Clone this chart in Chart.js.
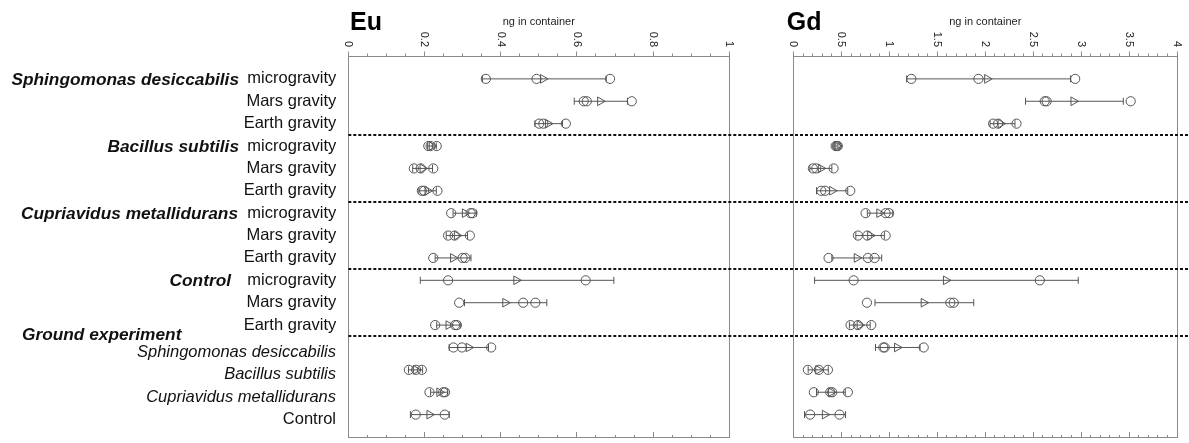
<!DOCTYPE html>
<html>
<head>
<meta charset="utf-8">
<title>Eu and Gd in container</title>
<script src="https://cdn.jsdelivr.net/npm/chart.js@4.4.1/dist/chart.umd.min.js"></script>
<style>
  html, body { margin: 0; padding: 0; background: #fff; }
  #wrap { position: relative; width: 1189px; height: 443px; overflow: hidden; }
  #eu { position: absolute; left: 0; top: 0; width: 760px; height: 443px; }
  #gd { position: absolute; left: 760px; top: 0; width: 429px; height: 443px; }
</style>
</head>
<body>
<div id="wrap">
  <canvas id="eu" width="760" height="443"></canvas>
  <canvas id="gd" width="429" height="443"></canvas>
</div>
<script>
// ---- rows and groups ----
const groupNames = ['Sphingomonas desiccabilis', 'Bacillus subtilis', 'Cupriavidus metallidurans', 'Control', 'Ground experiment'];
const groupSizes = [3, 3, 3, 3, 4];
const rowLabels = [
  'microgravity', 'Mars gravity', 'Earth gravity',
  'microgravity', 'Mars gravity', 'Earth gravity',
  'microgravity', 'Mars gravity', 'Earth gravity',
  'microgravity', 'Mars gravity', 'Earth gravity',
  'Sphingomonas desiccabilis', 'Bacillus subtilis', 'Cupriavidus metallidurans', 'Control'
];
const italicRows = [12, 13, 14];
const groundRows = [12, 13, 14, 15];

// ---- Eu (ng in container) ----
const euReplicates = [
  [0.361, 0.494, 0.687],
  [0.618, 0.626, 0.744],
  [0.501, 0.512, 0.571],
  [0.210, 0.216, 0.232],
  [0.172, 0.190, 0.223],
  [0.193, 0.199, 0.234],
  [0.270, 0.321, 0.326],
  [0.262, 0.279, 0.319],
  [0.223, 0.300, 0.307],
  [0.262, 0.623],
  [0.291, 0.459, 0.491],
  [0.228, 0.280, 0.285],
  [0.276, 0.298, 0.375],
  [0.159, 0.178, 0.193],
  [0.213, 0.249, 0.254],
  [0.177, 0.253]
];
const euMean = [0.511, 0.661, 0.524, 0.219, 0.195, 0.208, 0.306, 0.285, 0.275, 0.441, 0.412, 0.263, 0.316, 0.177, 0.239, 0.213];
const euLow  = [0.352, 0.593, 0.490, 0.208, 0.169, 0.185, 0.275, 0.257, 0.228, 0.189, 0.305, 0.232, 0.265, 0.158, 0.216, 0.163];
const euHigh = [0.677, 0.733, 0.562, 0.231, 0.221, 0.231, 0.336, 0.313, 0.322, 0.697, 0.521, 0.294, 0.368, 0.195, 0.261, 0.265];
const euTickLabels = ['0', '0.2', '0.4', '0.6', '0.8', '1'];

// ---- Gd (ng in container) ----
const gdReplicates = [
  [1.229, 1.929, 2.938],
  [2.620, 2.640, 3.517],
  [2.082, 2.134, 2.326],
  [0.440, 0.452, 0.462],
  [0.202, 0.237, 0.418],
  [0.290, 0.330, 0.592],
  [0.752, 0.961, 0.996],
  [0.672, 0.770, 0.961],
  [0.366, 0.776, 0.846],
  [0.627, 2.569],
  [0.766, 1.636, 1.671],
  [0.595, 0.672, 0.811],
  [0.937, 0.951, 1.358],
  [0.150, 0.265, 0.359],
  [0.212, 0.383, 0.404, 0.567],
  [0.174, 0.480]
];
const gdMean = [2.020, 2.920, 2.160, 0.452, 0.285, 0.403, 0.895, 0.800, 0.660, 1.590, 1.358, 0.690, 1.080, 0.258, 0.390, 0.327];
const gdLow  = [1.180, 2.420, 2.050, 0.441, 0.170, 0.240, 0.770, 0.650, 0.400, 0.220, 0.850, 0.583, 0.855, 0.153, 0.240, 0.115];
const gdHigh = [2.890, 3.440, 2.310, 0.463, 0.400, 0.566, 1.035, 0.948, 0.920, 2.970, 1.880, 0.800, 1.320, 0.363, 0.540, 0.543];
const gdTickLabels = ['0', '0.5', '1', '1.5', '2', '2.5', '3', '3.5', '4'];

// ---- styling ----
const FONT = "'Liberation Sans', Arial, sans-serif";
const AXIS_GREY = '#8a8a8a';
const MARK = '#555';
const TOP_AXIS_H = 56.5;
const BOTTOM_AXIS_H = 5.5;
const ROW_LABEL_SIZE = 16.5;
const ROW_LABEL_RIGHT = 336;
const GROUND_LABEL_SHIFT = 5;

// where the bold group names sit (row value, x anchor, alignment)
const groupLabelPlacement = [
  { row: 0, x: 239, align: 'right' },
  { row: 3, x: 239, align: 'right' },
  { row: 6, x: 238, align: 'right' },
  { row: 9, x: 231, align: 'right' },
  { row: 11.4, x: 22, align: 'left' }
];

// titles, rotated tick labels, dashed group separators and group names
const panelDecor = {
  id: 'panelDecor',
  afterDraw(chart, args, o) {
    const { ctx, chartArea: a } = chart;
    const xs = chart.scales.x, ys = chart.scales.y;
    ctx.save();

    ctx.strokeStyle = '#111';
    ctx.lineWidth = 2;
    ctx.setLineDash([3, 2]);
    let cum = 0;
    groupSizes.slice(0, -1).forEach(n => {
      cum += n;
      const py = Math.round(ys.getPixelForValue(cum - 0.5));
      ctx.beginPath();
      ctx.moveTo(o.dashStart === 'area' ? a.left : 0, py);
      ctx.lineTo(chart.width, py);
      ctx.stroke();
    });
    ctx.setLineDash([]);

    ctx.fillStyle = '#000';
    ctx.textAlign = 'left';
    ctx.textBaseline = 'alphabetic';
    ctx.font = `bold 25px ${FONT}`;
    ctx.fillText(o.title, o.titleX, 30);

    ctx.fillStyle = '#222';
    ctx.font = `11px ${FONT}`;
    ctx.textAlign = 'center';
    ctx.fillText('ng in container', (a.left + a.right) / 2, 24.5);

    ctx.textAlign = 'right';
    ctx.textBaseline = 'middle';
    o.tickLabels.forEach(t => {
      const px = xs.getPixelForValue(parseFloat(t));
      ctx.save();
      ctx.translate(px, 47);
      ctx.rotate(Math.PI / 2);
      ctx.fillText(t, 0, 0);
      ctx.restore();
    });

    if (o.groupLabels) {
      ctx.fillStyle = '#111';
      ctx.font = `italic bold 17.3px ${FONT}`;
      ctx.textBaseline = 'middle';
      o.groupLabels.forEach((g, i) => {
        ctx.textAlign = g.align;
        ctx.fillText(groupNames[i], g.x, ys.getPixelForValue(g.row) + 1);
      });

      // ground experiment rows sit a little below their marks
      ctx.textAlign = 'right';
      groundRows.forEach(r => {
        const style = italicRows.includes(r) ? 'italic ' : '';
        ctx.font = `${style}${ROW_LABEL_SIZE}px ${FONT}`;
        ctx.fillText(rowLabels[r], ROW_LABEL_RIGHT, ys.getPixelForValue(r) + GROUND_LABEL_SHIFT);
      });
    }
    ctx.restore();
  }
};

function makePanel(canvasId, cfg) {
  const { reps, mean, low, high, max, major, minor } = cfg;
  const isMajor = v => Math.abs(v / major - Math.round(v / major)) < 1e-6;

  const repPts = [];
  reps.forEach((r, i) => r.forEach(v => repPts.push({ x: v, y: i })));
  const meanPts = mean.map((v, i) => ({ x: v, y: i }));
  const sdPts = [];
  low.forEach((v, i) => {
    sdPts.push({ x: v, y: i }, { x: high[i], y: i }, { x: null, y: null });
  });

  const xCommon = {
    type: 'linear', min: 0, max,
    ticks: { display: false, stepSize: minor },
    border: { display: true, color: AXIS_GREY, width: 1 }
  };

  return new Chart(document.getElementById(canvasId), {
    type: 'scatter',
    data: {
      datasets: [
        {
          label: 'mean',
          data: meanPts,
          pointStyle: 'triangle',
          pointRotation: 90,
          pointRadius: 5,
          pointBackgroundColor: 'rgba(0,0,0,0)',
          pointBorderColor: MARK,
          pointBorderWidth: 1
        },
        {
          label: 'replicates',
          data: repPts,
          pointStyle: 'circle',
          pointRadius: 4.6,
          pointBackgroundColor: 'rgba(0,0,0,0)',
          pointBorderColor: MARK,
          pointBorderWidth: 1
        },
        {
          label: 'SD',
          data: sdPts,
          showLine: true,
          spanGaps: false,
          borderColor: MARK,
          borderWidth: 1,
          pointStyle: 'line',
          pointRotation: 90,
          pointRadius: 3.5,
          pointBorderColor: MARK,
          pointBorderWidth: 1
        }
      ]
    },
    options: {
      responsive: false,
      animation: false,
      events: [],
      layout: { padding: 0 },
      plugins: {
        legend: { display: false },
        tooltip: { enabled: false },
        panelDecor: cfg.decor
      },
      scales: {
        x: Object.assign({}, xCommon, {
          position: 'top',
          grid: {
            drawOnChartArea: false,
            tickLength: 5,
            tickColor: AXIS_GREY,
            tickBorderDash: c => (c.tick && !isMajor(c.tick.value)) ? [0, 2, 3, 0] : []
          },
          afterFit: s => { s.height = TOP_AXIS_H; s.paddingLeft = 0; s.paddingRight = 0; }
        }),
        xb: Object.assign({}, xCommon, {
          position: 'bottom',
          grid: {
            drawOnChartArea: false,
            tickLength: -5,
            tickColor: AXIS_GREY,
            tickBorderDash: c => (c.tick && !isMajor(c.tick.value)) ? [3, 10] : []
          },
          afterFit: s => { s.height = BOTTOM_AXIS_H; s.paddingLeft = 0; s.paddingRight = 0; }
        }),
        y: {
          type: 'linear', position: 'left', reverse: true, min: -1, max: 16,
          ticks: {
            display: cfg.showRowLabels,
            stepSize: 1,
            autoSkip: false,
            padding: 12,
            color: '#111',
            font: { family: FONT, size: ROW_LABEL_SIZE },
            // flight rows are axis labels; ground rows are drawn by panelDecor
            callback: v => (rowLabels[v] !== undefined && !groundRows.includes(v) ? rowLabels[v] : '')
          },
          grid: { display: false, drawTicks: false },
          border: { display: true, color: AXIS_GREY, width: 1 },
          afterFit: s => { s.width = cfg.leftWidth; s.paddingTop = 0; s.paddingBottom = 0; }
        },
        yr: {
          type: 'linear', position: 'right', reverse: true, min: -1, max: 16,
          ticks: { display: false },
          grid: { display: false, drawTicks: false },
          border: { display: true, color: AXIS_GREY, width: 1 },
          afterFit: s => { s.width = cfg.rightWidth; s.paddingTop = 0; s.paddingBottom = 0; }
        }
      }
    },
    plugins: [panelDecor]
  });
}

makePanel('eu', {
  reps: euReplicates, mean: euMean, low: euLow, high: euHigh,
  max: 1, major: 0.2, minor: 0.05,
  showRowLabels: true, leftWidth: 348.3, rightWidth: 30.7,
  decor: { title: 'Eu', titleX: 350, tickLabels: euTickLabels, dashStart: 'area', groupLabels: groupLabelPlacement }
});

makePanel('gd', {
  reps: gdReplicates, mean: gdMean, low: gdLow, high: gdHigh,
  max: 4, major: 0.5, minor: 0.1,
  showRowLabels: false, leftWidth: 33.5, rightWidth: 12,
  decor: { title: 'Gd', titleX: 26.7, tickLabels: gdTickLabels, dashStart: 'edge', groupLabels: null }
});
</script>
</body>
</html>
